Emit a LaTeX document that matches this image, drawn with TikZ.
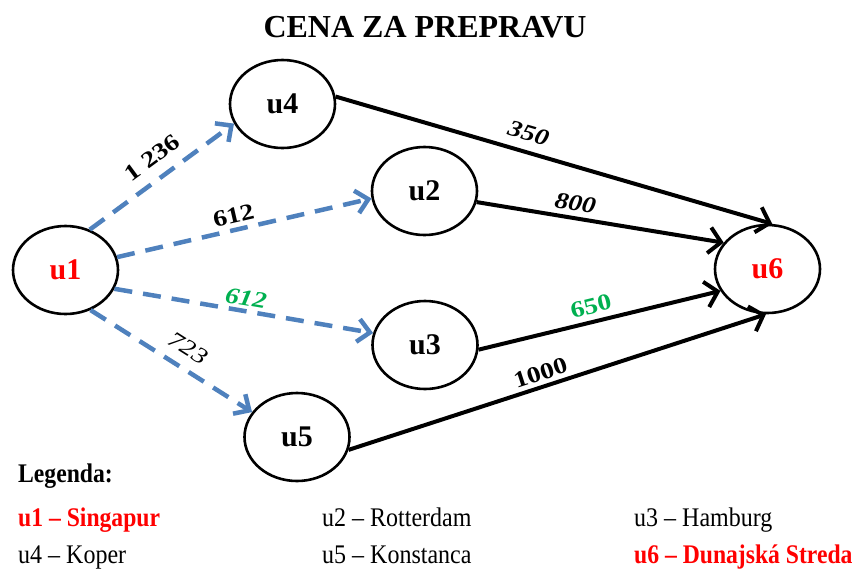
\documentclass[tikz,border=0pt]{standalone}
\usepackage{fontspec}
\setmainfont{Liberation Serif}
\usetikzlibrary{shapes.geometric,arrows.meta}

\definecolor{edgeblue}{RGB}{79,129,189}
\definecolor{costgreen}{RGB}{0,176,80}
\definecolor{portred}{RGB}{255,0,0}

\tikzset{
  port/.style={ellipse, draw=black, line width=2.6pt, fill=white,
    minimum width=105pt, minimum height=88pt, inner sep=0pt,
    font=\fontsize{30}{34}\selectfont\bfseries},
  sea/.style={draw=edgeblue, line width=4.5pt, dash pattern=on 18pt off 11pt,
    -{Straight Barb[length=12pt,width=23pt]}},
  land/.style={draw=black, line width=4pt,
    -{Straight Barb[length=12pt,width=26pt]}},
  cost/.style={sloped, above, inner sep=4pt, font=\fontsize{23}{25}\selectfont},
  legendtext/.style={anchor=base west, inner sep=0pt, font=\fontsize{24}{26}\selectfont}
}

\newcommand{\wide}[1]{\scalebox{1.2}[1]{#1}}
\newcommand{\tall}[1]{\scalebox{1}[1.12]{#1}}
\newcommand{\tallbold}[1]{\scalebox{0.985}[1.12]{\bfseries #1}}

\begin{document}
\begin{tikzpicture}[x=1pt, y=-1pt]
  \useasboundingbox (0,0) rectangle (853,568);

  % title
  \node[anchor=base, inner sep=0pt, font=\fontsize{32}{36}\selectfont\bfseries]
    (title) at (425,37) {CENA ZA PREPRAVU};

  % ports
  \node[port, text=portred] (u1) at (65.5,270) {u1};
  \node[port] (u4) at (282.5,104) {u4};
  \node[port] (u2) at (424.5,191) {u2};
  \node[port] (u3) at (425,345) {u3};
  \node[port] (u5) at (297,437) {u5};
  \node[port, text=portred] (u6) at (767.5,269) {u6};

  % sea routes
  \draw[sea] (u1.59) -- node[cost, pos=0.52, inner sep=11pt] {\wide{\bfseries 1 236}} (u4.202);
  \draw[sea] (u1.14) -- node[cost, pos=0.47, inner sep=4pt] {\wide{\bfseries 612}} (u2.188);
  \draw[sea] (u1.339) -- node[cost, pos=0.5, inner sep=3pt, text=costgreen] {\wide{\bfseries\itshape 612}} (u3.167);
  \draw[sea] (u1.302) -- node[cost, pos=0.54, inner sep=10pt] {\wide{\itshape 723}} (u5.151);

  % land routes
  \draw[land] (u4.8) -- node[cost, pos=0.43, inner sep=9pt] {\wide{\bfseries\itshape 350}} (u6.84);
  \draw[land] (u2.348) -- node[cost, pos=0.39, inner sep=5pt] {\wide{\bfseries\itshape 800}} (u6.149);
  \draw[land] (u3.355) -- node[cost, pos=0.48, inner sep=6pt, text=costgreen] {\wide{\bfseries 650}} (u6.205);
  \draw[land] (u5.346) -- node[cost, pos=0.47, inner sep=4pt] {\wide{\bfseries 1000}} (u6.268);

  % legend
  \node[legendtext] (lg) at (18,482) {\tallbold{Legenda:}};
  \node[legendtext, text=portred] (l1) at (18,526) {\tallbold{u1 – Singapur}};
  \node[legendtext] (l2) at (322,526) {\tall{u2 – Rotterdam}};
  \node[legendtext] (l3) at (634,526) {\tall{u3 – Hamburg}};
  \node[legendtext] (l4) at (18,563) {\tall{u4 – Koper}};
  \node[legendtext] (l5) at (322,563) {\tall{u5 – Konstanca}};
  \node[legendtext, text=portred] (l6) at (634,563) {\tallbold{u6 – Dunajská Streda}};
\end{tikzpicture}
\end{document}
